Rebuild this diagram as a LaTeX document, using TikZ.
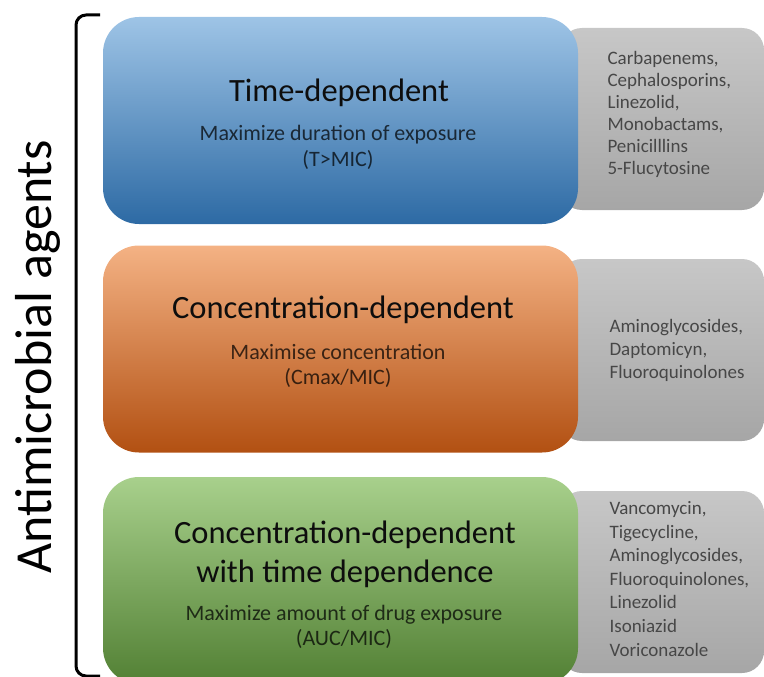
\documentclass[tikz,border=0pt]{standalone}
\usepackage{fontspec}
\setmainfont{Carlito}
\definecolor{blueTop}{RGB}{158,196,230}
\definecolor{blueMid}{RGB}{92,154,212}
\definecolor{blueBot}{RGB}{45,106,164}
\definecolor{orangeTop}{RGB}{244,178,132}
\definecolor{orangeMid}{RGB}{236,126,52}
\definecolor{orangeBot}{RGB}{178,80,18}
\definecolor{greenTop}{RGB}{168,208,140}
\definecolor{greenMid}{RGB}{114,174,72}
\definecolor{greenBot}{RGB}{82,128,52}
\definecolor{greyTop}{RGB}{199,199,199}
\definecolor{greyMid}{RGB}{216,216,216}
\definecolor{greyBot}{RGB}{166,166,166}
\begin{document}
\begin{tikzpicture}[x=1pt,y=-1pt,
  mainbox/.style={shape=rectangle,rounded corners=36pt,minimum width=475pt,minimum height=207pt,inner sep=0pt},
  listbox/.style={shape=rectangle,rounded corners=22pt,minimum width=204pt,minimum height=182pt,inner sep=0pt,top color=greyTop,middle color=greyMid,bottom color=greyBot},
  title/.style={anchor=base,font=\fontsize{32.5}{39}\selectfont,text=black!95,align=center},
  subtitle/.style={anchor=base,font=\fontsize{22}{25}\selectfont,text=black,text opacity=0.72,align=center},
  druglist/.style={anchor=base west,text=black!72,align=left}]
\clip (0,0) rectangle (764,677);

% grey lists behind
\node[listbox](timelist) at (662,119) {};
\node[listbox](conclist) at (662,350) {};
\node[listbox](auclist) at (662,582) {};

% coloured boxes
\node[mainbox,top color=blueTop,middle color=blueMid,bottom color=blueBot](time) at (340.5,120.5) {};
\node[mainbox,top color=orangeTop,middle color=orangeMid,bottom color=orangeBot](conc) at (340.5,349) {};
\node[mainbox,top color=greenTop,middle color=greenMid,bottom color=greenBot](auc) at (340.5,580.5) {};

% base anchor sits on the last line
\node[title](timetitle) at (339,102) {Time-dependent};
\node[subtitle](timesub) at (338,166) {Maximize duration of exposure\\(T>MIC)};

\node[title](conctitle) at (343,318) {Concentration-dependent};
\node[subtitle](concsub) at (338,384) {Maximise concentration\\(Cmax/MIC)};

\node[title](auctitle) at (345,582) {Concentration-dependent\\with time dependence};
\node[subtitle](aucsub) at (344,645) {Maximize amount of drug exposure\\(AUC/MIC)};

\node[druglist,font=\fontsize{19}{22.2}\selectfont](timedrugs) at (604,175) {Carbapenems,\\Cephalosporins,\\Linezolid,\\Monobactams,\\Penicilllins\\5-Flucytosine};
\node[druglist,font=\fontsize{19}{23}\selectfont](concdrugs) at (606,378) {Aminoglycosides,\\Daptomicyn,\\Fluoroquinolones};
\node[druglist,font=\fontsize{19}{23.6}\selectfont](aucdrugs) at (606,656) {Vancomycin,\\Tigecycline,\\Aminoglycosides,\\Fluoroquinolones,\\Linezolid\\Isoniazid\\Voriconazole};

% bracket and label
\draw[line width=3pt,rounded corners=10pt] (100,15) -- (76,15) -- (76,676) -- (100,676);
\node[rotate=90,anchor=base,font=\fontsize{52}{60}\selectfont](agents) at (52,357) {Antimicrobial agents};
\end{tikzpicture}
\end{document}
